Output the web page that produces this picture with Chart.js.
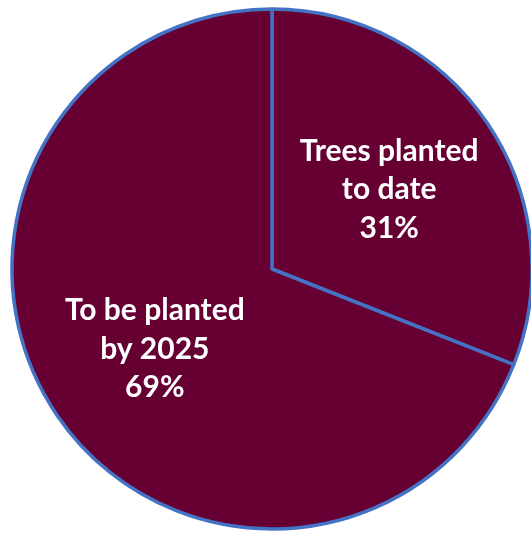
<!DOCTYPE html>
<html>
<head>
<meta charset="utf-8">
<script src="https://cdn.jsdelivr.net/npm/chart.js@4.4.1/dist/chart.umd.min.js"></script>
<style>
  html, body { margin: 0; padding: 0; background: #ffffff; overflow: hidden; }
  #wrap { position: relative; width: 531px; height: 534px; }
</style>
</head>
<body>
<div id="wrap"><canvas id="pieChart"></canvas></div>
<script>
// slice data
const labels = [["Trees planted", "to date"], ["To be planted", "by 2025"]];
const shares = [31, 69];
const sliceColors = ["#660033", "#660033"];

// draws the label text inside each slice
const sliceLabels = {
  id: "sliceLabels",
  afterDatasetsDraw(chart) {
    const ctx = chart.ctx;
    const meta = chart.getDatasetMeta(0);
    const lineGap = 38.7;
    ctx.save();
    ctx.fillStyle = "#ffffff";
    ctx.font = "bold 30px Lato";
    ctx.textAlign = "center";
    ctx.textBaseline = "alphabetic";
    meta.data.forEach((arc, i) => {
      const p = arc.getProps(["x", "y", "startAngle", "endAngle", "outerRadius"], true);
      const mid = (p.startAngle + p.endAngle) / 2;
      const r = p.outerRadius * 0.545;
      const cx = p.x + Math.cos(mid) * r;
      const cy = p.y + Math.sin(mid) * r;
      const lines = labels[i].concat([shares[i] + "%"]);
      lines.forEach((txt, j) => {
        ctx.fillText(txt, cx, cy + (j - 1) * lineGap + 10);
      });
    });
    ctx.restore();
  }
};

new Chart(document.getElementById("pieChart"), {
  type: "pie",
  data: {
    labels: labels.map(l => l.join(" ")),
    datasets: [
      {
        data: shares,
        backgroundColor: sliceColors,
        borderColor: "#4472C4",
        borderWidth: 3.5,
        clip: false
      }
    ]
  },
  options: {
    responsive: true,
    maintainAspectRatio: false,
    animation: false,
    radius: 260,
    layout: { padding: { left: 13, right: 0, top: 4, bottom: 0 } },
    plugins: {
      legend: { display: false },
      tooltip: { enabled: false }
    }
  },
  plugins: [sliceLabels]
});
</script>
</body>
</html>
